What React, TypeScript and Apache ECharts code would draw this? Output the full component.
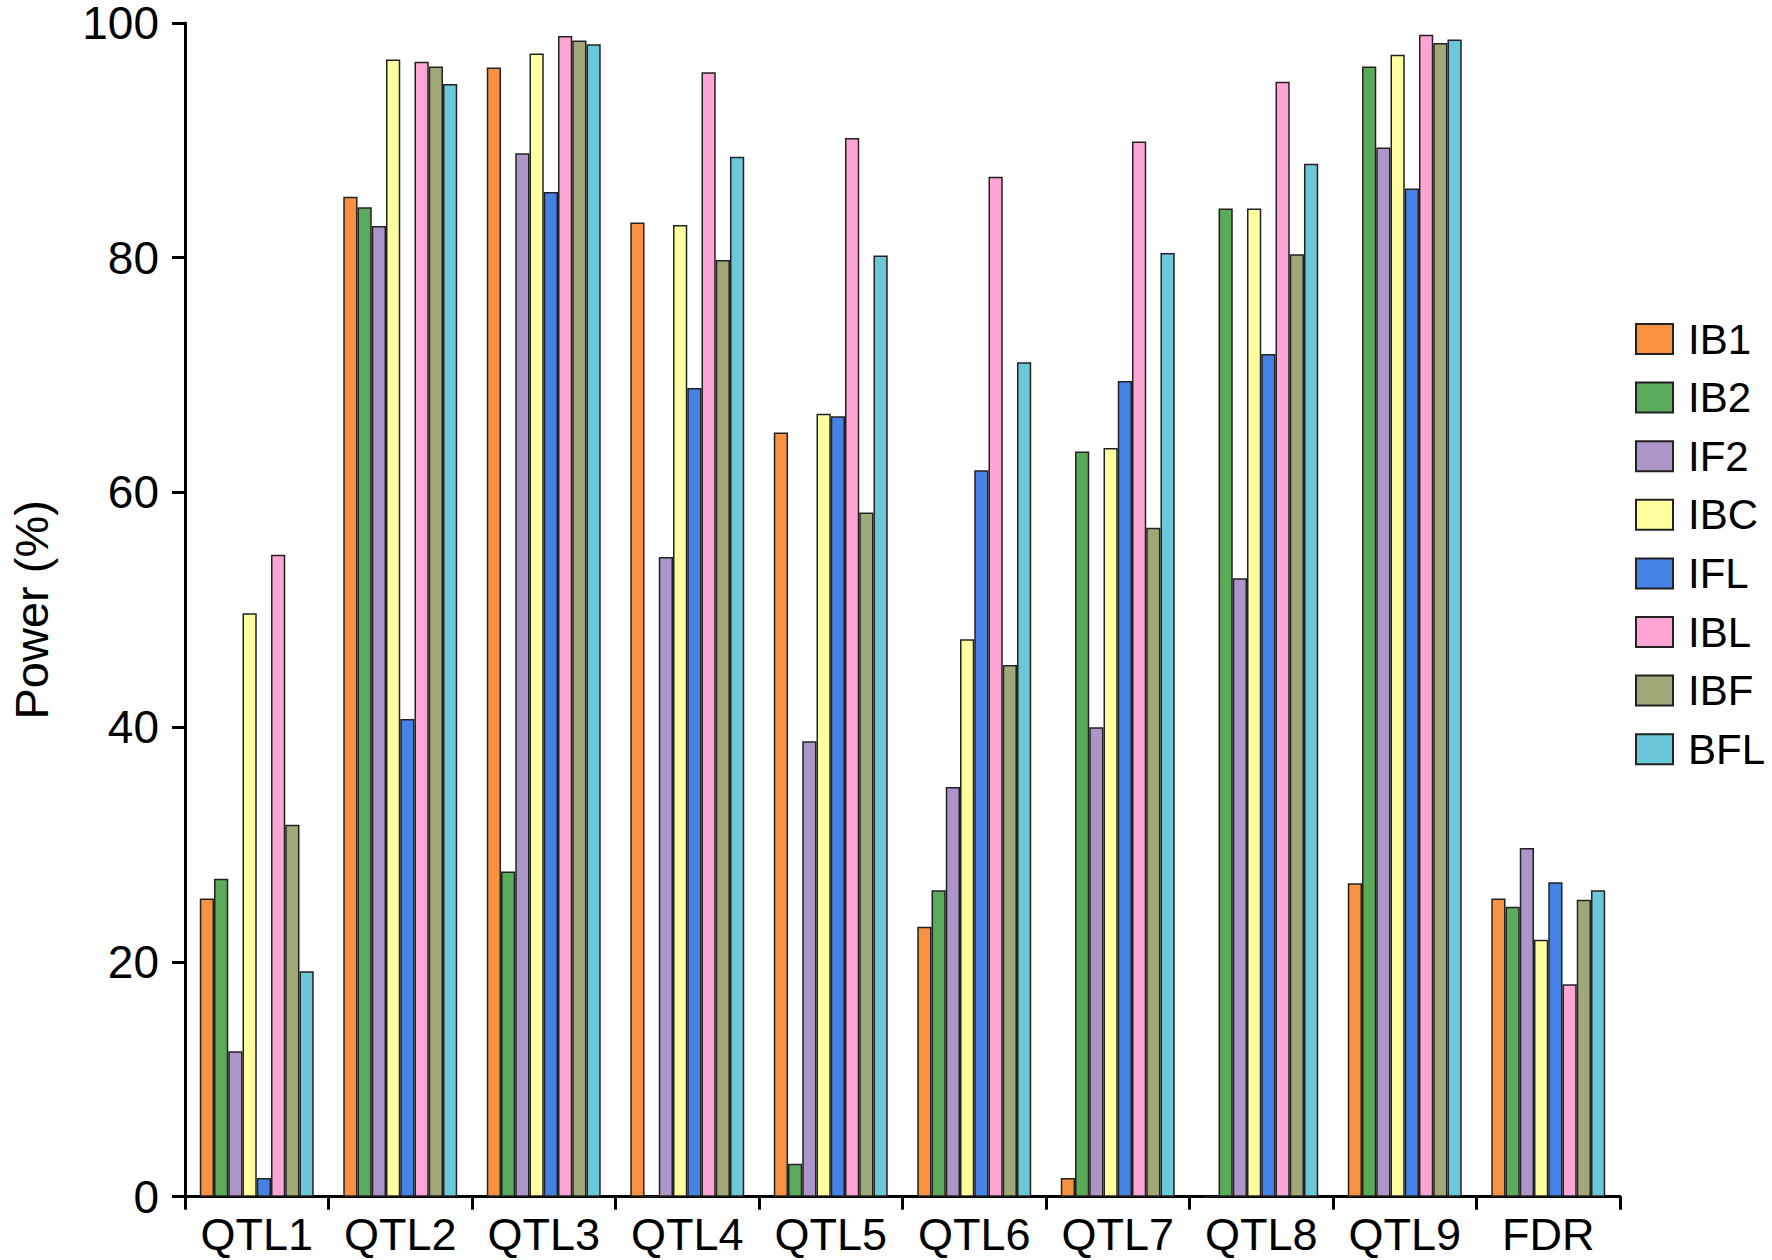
import React, { useEffect, useRef } from "react";
import * as echarts from "echarts";

const categories = ["QTL1", "QTL2", "QTL3", "QTL4", "QTL5", "QTL6", "QTL7", "QTL8", "QTL9", "FDR"];
const seriesNames = ["IB1", "IB2", "IF2", "IBC", "IFL", "IBL", "IBF", "BFL"];
const seriesColors = ["#F99240", "#5BAA5A", "#AC95C8", "#FFFFA0", "#4682E6", "#FFA5D5", "#A2A778", "#6AC8D8"];

const IB1 = [25.4, 85.2, 96.2, 83.0, 65.1, 23.0, 1.6, 0, 26.7, 25.4];
const IB2 = [27.1, 84.3, 27.7, 0, 2.8, 26.1, 63.5, 84.2, 96.3, 24.7];
const IF2 = [12.4, 82.7, 88.9, 54.5, 38.8, 34.9, 40.0, 52.7, 89.4, 29.7];
const IBC = [49.7, 96.9, 97.4, 82.8, 66.7, 47.5, 63.8, 84.2, 97.3, 21.9];
const IFL = [1.6, 40.7, 85.6, 68.9, 66.5, 61.9, 69.5, 71.8, 85.9, 26.8];
const IBL = [54.7, 96.7, 98.9, 95.8, 90.2, 86.9, 89.9, 95.0, 99.0, 18.1];
const IBF = [31.7, 96.3, 98.5, 79.8, 58.3, 45.3, 57.0, 80.3, 98.3, 25.3];
const BFL = [19.2, 94.8, 98.2, 88.6, 80.2, 71.1, 80.4, 88.0, 98.6, 26.1];

const seriesData = [IB1, IB2, IF2, IBC, IFL, IBL, IBF, BFL];
const yTicks = { min: 0, max: 100, interval: 20 };

const FONT = "'Liberation Sans', Arial, sans-serif";

export default function App() {
  const ref = useRef<HTMLDivElement>(null);
  useEffect(() => {
    if (!ref.current) return;
    const chart = echarts.init(ref.current, undefined, { renderer: "svg" });
    chart.setOption({
      animation: false,
      backgroundColor: "#ffffff",
      grid: { left: 158.5, right: 152, top: 20.7, bottom: 63.3, containLabel: false },
      legend: {
        orient: "vertical",
        left: 1630,
        top: 313,
        itemWidth: 37,
        itemHeight: 30,
        itemGap: 16.6,
        icon: "rect",
        data: seriesNames,
        textStyle: { fontFamily: FONT, fontSize: 42, color: "#000", padding: [0, 0, 0, 10] },
      },
      xAxis: {
        type: "category",
        data: categories,
        axisLine: { lineStyle: { color: "#000", width: 3 } },
        axisTick: { show: true, length: 13, lineStyle: { color: "#000", width: 3 } },
        axisLabel: { interval: 0, fontFamily: FONT, fontSize: 45, lineHeight: 40, color: "#000", margin: 18 },
      },
      yAxis: {
        type: "value",
        min: yTicks.min,
        max: yTicks.max,
        interval: yTicks.interval,
        name: "Power (%)",
        nameLocation: "middle",
        nameGap: 130,
        nameTextStyle: { fontFamily: FONT, fontSize: 47, color: "#000" },
        axisLine: { show: true, lineStyle: { color: "#000", width: 3 } },
        axisTick: { show: true, length: 13, lineStyle: { color: "#000", width: 3 } },
        axisLabel: { fontFamily: FONT, fontSize: 46, lineHeight: 40, color: "#000", margin: 26 },
        splitLine: { show: false },
      },
      series: seriesNames.map((name, i) => ({
        name,
        type: "bar",
        data: seriesData[i],
        barGap: "0%",
        barCategoryGap: "20.6%",
        itemStyle: { color: seriesColors[i], borderColor: "#222", borderWidth: 1.5 },
      })),
    });
    return () => chart.dispose();
  }, []);
  return (
    <div
      ref={ref}
      style={{ position: "fixed", left: 0, top: 0, width: 1772, height: 1260, background: "#fff" }}
    />
  );
}
